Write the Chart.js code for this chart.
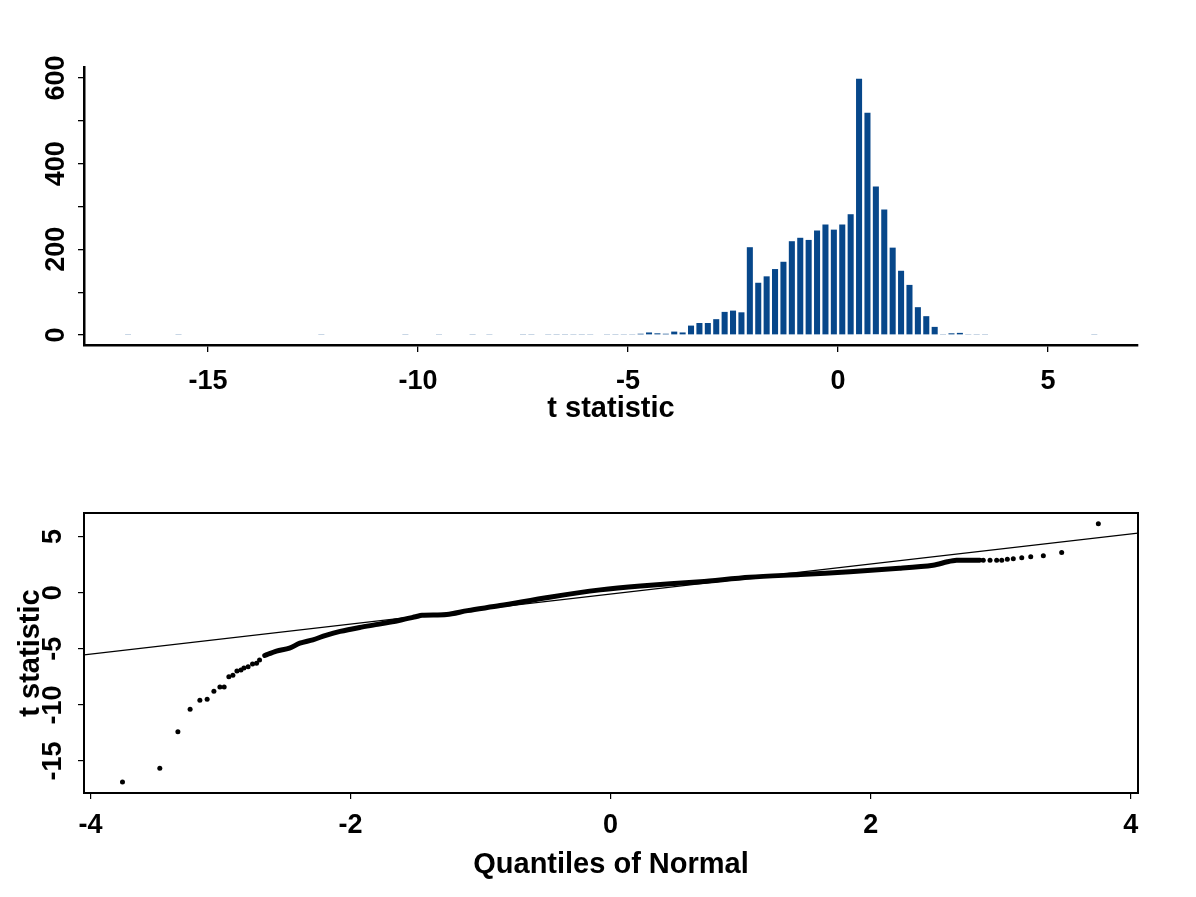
<!DOCTYPE html>
<html><head><meta charset="utf-8">
<script src="https://cdn.jsdelivr.net/npm/chart.js@4/dist/chart.umd.min.js"></script>
<style>
html,body{margin:0;padding:0;background:#fff;width:1196px;height:897px;overflow:hidden}
canvas{position:absolute;left:0}
#c1{top:0}
#c2{top:448px}
</style></head><body>
<canvas id="c1" width="1196" height="448"></canvas>
<canvas id="c2" width="1196" height="449"></canvas>
<script>
// ---- Histogram of t statistics (bin centres, width 0.2) ----
const binCenters = [-16.9,-15.7,-12.3,-10.3,-9.5,-8.7,-8.3,-7.5,-7.3,-6.9,-6.7,-6.5,-6.3,-6.1,-5.9,-5.5,-5.3,-5.1,-4.9,-4.7,-4.5,-4.3,-4.1,-3.9,-3.7,-3.5,-3.3,-3.1,-2.9,-2.7,-2.5,-2.3,-2.1,-1.9,-1.7,-1.5,-1.3,-1.1,-0.9,-0.7,-0.5,-0.3,-0.1,0.1,0.3,0.5,0.7,0.9,1.1,1.3,1.5,1.7,1.9,2.1,2.3,2.5,2.7,2.9,3.1,3.3,3.5,6.1];
const binCounts  = [1,1,1,1,2,1,2,1,1,2,1,1,2,1,2,2,1,2,2,3,6,4,3,8,6,22,28,28,37,54,57,53,205,122,137,154,171,219,227,222,244,258,246,258,282,598,519,347,293,204,150,117,65,44,19,1,4,5,2,1,1,1];
const histXTicks = [-15,-10,-5,0,5];
const histYTicks = [0,100,200,300,400,500,600];
const histYLabels = [0,200,400,600];

// ---- Normal QQ plot ----
const qqTailX = [-3.754,-3.467,-3.328,-3.234,-3.159,-3.103,-3.051,-3.005,-2.972,-2.936,-2.905,-2.874,-2.843,-2.820,-2.788,-2.754,-2.723,-2.700,
                 2.866,2.918,2.969,3.008,3.051,3.097,3.162,3.231,3.328,3.469,3.751];
const qqTailY = [-16.87,-15.65,-12.39,-10.39,-9.59,-9.50,-8.79,-8.40,-8.40,-7.49,-7.36,-6.98,-6.89,-6.71,-6.59,-6.35,-6.29,-6.00,
                 2.89,2.89,2.89,2.89,2.98,3.03,3.12,3.21,3.30,3.57,6.15];
const qqBodyX = [-2.66,-2.57,-2.47,-2.39,-2.29,-2.19,-2.08,-1.93,-1.78,-1.62,-1.50,-1.45,-1.26,-1.10,-0.85,-0.47,-0.08,0.23,0.69,1.07,1.46,1.84,2.22,2.48,2.59,2.66,2.84];
const qqBodyY = [-5.60,-5.20,-4.95,-4.50,-4.20,-3.80,-3.45,-3.10,-2.80,-2.45,-2.15,-2.02,-1.95,-1.60,-1.15,-0.40,0.25,0.60,0.98,1.37,1.62,1.87,2.17,2.45,2.75,2.88,2.90];
const refLineX = [-4.05, 4.056];
const refLineY = [-5.55, 5.30];
const qqXTicks = [-4,-2,0,2,4];
const qqYTicks = [-15,-10,-5,0,5];

const FAM = "'Liberation Sans', Arial, sans-serif";
const tickFont = {family: FAM, size: 27, weight: 'bold'};
const titleFont = {family: FAM, size: 29, weight: 'bold'};
const toTicks = arr => arr.map(v => ({value: v}));

new Chart(document.getElementById('c1'), {
  type: 'bar',
  data: {datasets: [{
    data: binCenters.map((x, i) => ({x: x, y: binCounts[i]})),
    backgroundColor: '#07478a', borderWidth: 0,
    categoryPercentage: 0.8, barPercentage: 0.9
  }]},
  options: {
    responsive: false, animation: false, devicePixelRatio: 1,
    layout: {padding: {left: 0, top: 67, right: 58, bottom: 0}},
    plugins: {legend: {display: false}, tooltip: {enabled: false}},
    scales: {
      x: {
        type: 'linear', min: -17.95, max: 7.14, offset: false,
        afterBuildTicks: s => { s.ticks = toTicks(histXTicks); },
        afterFit: s => { s.height = 103; },
        grid: {display: true, drawOnChartArea: false, drawTicks: true, tickLength: 7, color: '#000', lineWidth: 1.3, offset: false},
        border: {display: true, color: '#000', width: 2.5},
        ticks: {color: '#000', font: tickFont, padding: 13.5, maxRotation: 0, autoSkip: false, callback: v => String(v)},
        title: {display: true, text: 't statistic', color: '#000', font: titleFont, padding: {top: 0, bottom: 22}}
      },
      y: {
        type: 'linear', min: -23.3, max: 625.7,
        afterBuildTicks: s => { s.ticks = toTicks(histYTicks); },
        afterFit: s => { s.width = 84; },
        grid: {display: true, drawOnChartArea: false, drawTicks: true, tickLength: 6, color: '#000', lineWidth: 1.3},
        border: {display: true, color: '#000', width: 2.5},
        ticks: {color: '#000', font: tickFont, padding: -1, minRotation: 90, maxRotation: 90, crossAlign: 'center', autoSkip: false,
                callback: v => histYLabels.includes(v) ? String(v) : ''}
      }
    }
  }
});

const boxPlugin = {
  id: 'box',
  afterDatasetsDraw(chart) {
    const {ctx, chartArea: a} = chart;
    ctx.save();
    ctx.strokeStyle = '#000'; ctx.lineWidth = 2;
    ctx.strokeRect(a.left, a.top, a.right - a.left, a.bottom - a.top);
    ctx.restore();
  }
};

new Chart(document.getElementById('c2'), {
  type: 'scatter',
  data: {datasets: [
    {data: qqBodyX.map((x, i) => ({x: x, y: qqBodyY[i]})), showLine: true, borderColor: '#000', borderWidth: 5,
     borderCapStyle: 'round', borderJoinStyle: 'round', pointRadius: 0, tension: 0.3},
    {data: qqTailX.map((x, i) => ({x: x, y: qqTailY[i]})), showLine: false, pointRadius: 2.5, borderWidth: 0,
     backgroundColor: '#000', pointStyle: 'circle'},
    {data: refLineX.map((x, i) => ({x: x, y: refLineY[i]})), showLine: true, borderColor: '#000', borderWidth: 1.3, pointRadius: 0}
  ]},
  options: {
    responsive: false, animation: false, devicePixelRatio: 1,
    layout: {padding: {left: 0, top: 65, right: 58, bottom: 0}},
    plugins: {legend: {display: false}, tooltip: {enabled: false}},
    scales: {
      x: {
        type: 'linear', min: -4.05, max: 4.056,
        afterBuildTicks: s => { s.ticks = toTicks(qqXTicks); },
        afterFit: s => { s.height = 104; },
        grid: {display: true, drawOnChartArea: false, drawTicks: true, tickLength: 6, color: '#000', lineWidth: 1.2},
        border: {display: false},
        ticks: {color: '#000', font: tickFont, padding: 10.5, maxRotation: 0, autoSkip: false, callback: v => String(v)},
        title: {display: true, text: 'Quantiles of Normal', color: '#000', font: titleFont, padding: {top: 0, bottom: 15}}
      },
      y: {
        type: 'linear', min: -17.85, max: 7.1,
        afterBuildTicks: s => { s.ticks = toTicks(qqYTicks); },
        afterFit: s => { s.width = 84; },
        grid: {display: true, drawOnChartArea: false, drawTicks: true, tickLength: 6, color: '#000', lineWidth: 1.2},
        border: {display: false},
        ticks: {color: '#000', font: tickFont, padding: 4.5, minRotation: 90, maxRotation: 90, crossAlign: 'center', autoSkip: false,
                callback: v => String(v)},
        title: {display: true, text: 't statistic', color: '#000', font: titleFont, padding: {top: 14, bottom: 0}}
      }
    }
  },
  plugins: [boxPlugin]
});
</script>
</body></html>
